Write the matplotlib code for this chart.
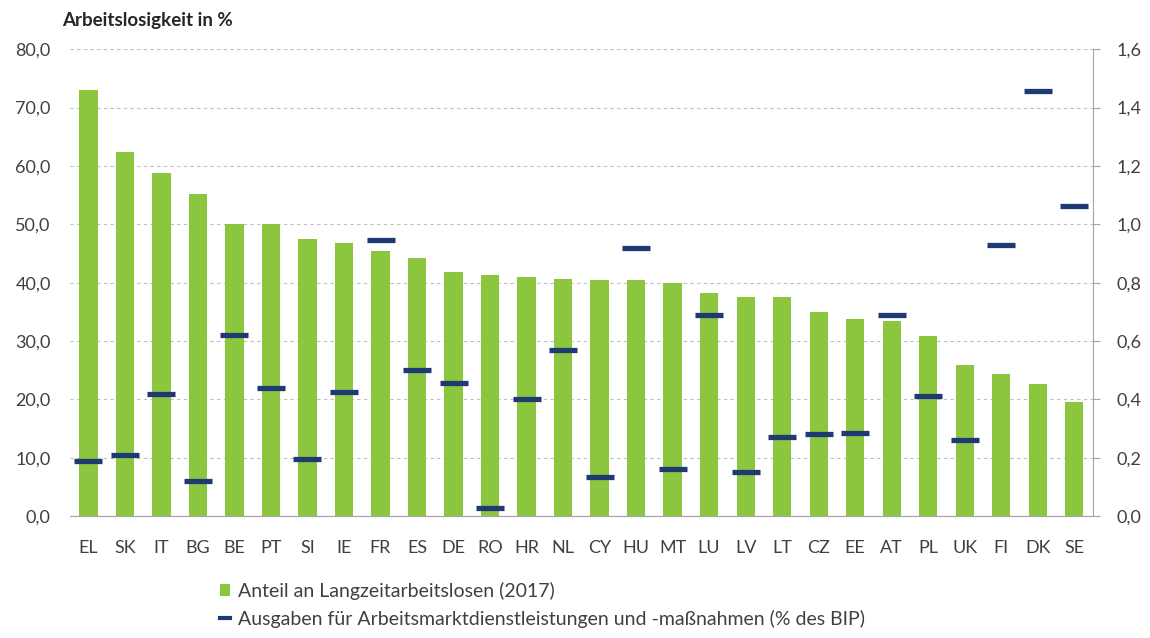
import matplotlib
matplotlib.use("Agg")
import matplotlib.pyplot as plt
from matplotlib.lines import Line2D
from matplotlib.patches import Patch
from matplotlib.ticker import FuncFormatter

plt.rcParams['font.family'] = ['Lato', 'DejaVu Sans']

# data
countries = ["EL", "SK", "IT", "BG", "BE", "PT", "SI", "IE", "FR", "ES",
             "DE", "RO", "HR", "NL", "CY", "HU", "MT", "LU", "LV", "LT",
             "CZ", "EE", "AT", "PL", "UK", "FI", "DK", "SE"]
long_term_share = [73.0, 62.3, 58.8, 55.1, 50.0, 50.0, 47.5, 46.8, 45.5, 44.3,
                   41.9, 41.3, 41.0, 40.6, 40.5, 40.4, 40.0, 38.2, 37.6, 37.6,
                   35.0, 33.7, 33.5, 30.9, 25.9, 24.4, 22.6, 19.6]
lmp_spending = [0.19, 0.21, 0.42, 0.12, 0.62, 0.44, 0.195, 0.425, 0.945, 0.50,
                0.455, 0.027, 0.40, 0.57, 0.135, 0.92, 0.16, 0.69, 0.15, 0.27,
                0.28, 0.285, 0.69, 0.41, 0.26, 0.93, 1.455, 1.062]

green = "#8cc63f"
navy = "#1f3a73"
grey = "#a6a6a6"
text_col = "#404040"

fig = plt.figure(figsize=(11.5, 6.38), dpi=100)
ax = fig.add_axes([0.061, 0.191, 0.889, 0.732])
ax2 = ax.twinx()

x = range(len(countries))
ax.bar(x, long_term_share, width=0.5, color=green, zorder=2)
ax2.plot(x, lmp_spending, linestyle="none", marker="_", markersize=20,
         markeredgewidth=3.8, color=navy, zorder=3)

ax.set_xlim(-0.5, len(countries) - 0.5)
ax.set_ylim(0, 80)
ax2.set_ylim(0, 1.6)
ax.set_yticks(range(0, 81, 10))
ax2.set_yticks([i * 0.2 for i in range(9)])
comma = FuncFormatter(lambda v, p: f"{v:.1f}".replace(".", ","))
ax.yaxis.set_major_formatter(comma)
ax2.yaxis.set_major_formatter(comma)

ax.set_xticks(list(x))
ax.set_xticklabels(countries)
ax.grid(axis="y", color="#bfbfbf", linestyle=(0, (3, 3)), linewidth=0.8, zorder=0)
ax.set_axisbelow(True)

for a in (ax, ax2):
    for s in ("top", "left"):
        a.spines[s].set_visible(False)
    a.spines["bottom"].set_color(grey)
    a.spines["right"].set_color(grey)
    a.tick_params(colors=text_col, labelsize=13)
ax2.spines["right"].set_visible(True)
ax.spines["right"].set_visible(False)
ax.tick_params(axis="y", length=0, pad=14)
ax.tick_params(axis="x", length=0, pad=17)
ax2.tick_params(axis="y", length=5, color=grey, pad=12)

fig.text(0.054, 0.968, "Arbeitslosigkeit in %", fontsize=13.5,
         fontweight="bold", color="#262626", ha="left", va="center")

handles = [
    Patch(facecolor=green, edgecolor="none"),
    Line2D([], [], color=navy, linewidth=3),
]
labels = ["Anteil an Langzeitarbeitslosen (2017)",
          "Ausgaben für Arbeitsmarktdienstleistungen und -maßnahmen (% des BIP)"]
fig.legend(handles, labels, loc="upper left", bbox_to_anchor=(0.191, 0.088),
           frameon=False, fontsize=14, labelcolor=text_col, handlelength=0.55,
           handleheight=0.55, handletextpad=0.4, labelspacing=0.5,
           borderaxespad=0, borderpad=0)

fig.savefig("out.png", dpi=100)
